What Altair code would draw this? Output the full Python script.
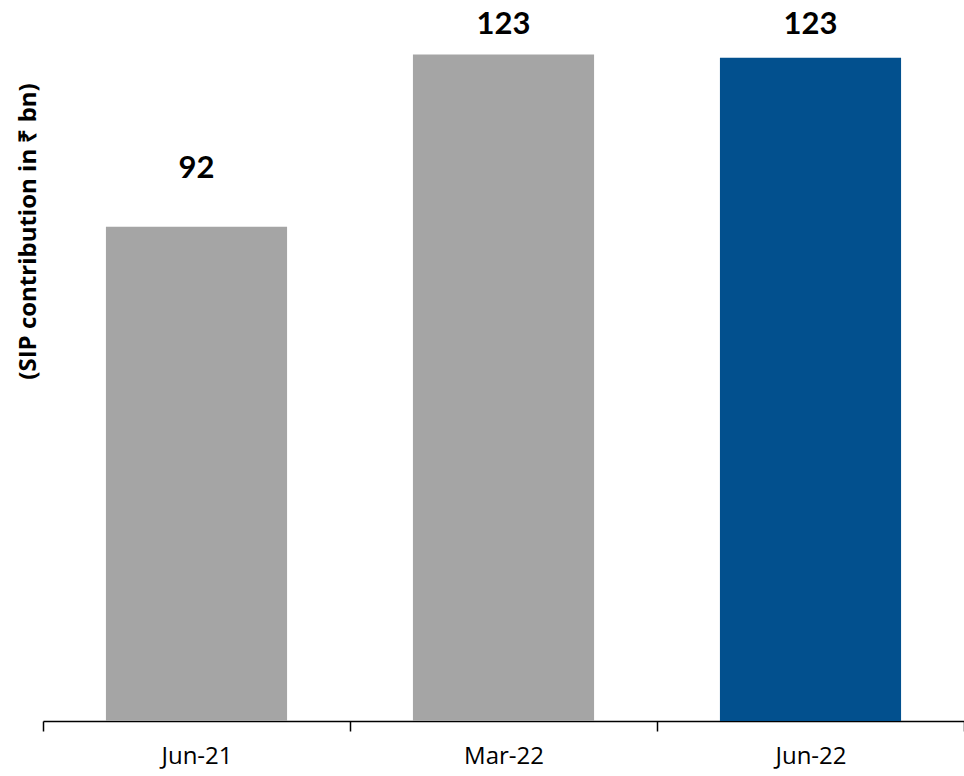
import altair as alt
import pandas as pd

categories = ["Jun-21", "Mar-22", "Jun-22"]
values = [91.5, 123.4, 122.8]
labels = ["92", "123", "123"]
label_pos = [102.3, 128.9, 128.9]
colors = ["#A5A5A5", "#A5A5A5", "#02508E"]

df = pd.DataFrame({
    "cat": categories,
    "value": values,
    "label": labels,
    "label_pos": label_pos,
    "color": colors,
})

x = alt.X("cat:N", sort=categories, title=None,
          scale=alt.Scale(paddingInner=0, paddingOuter=0),
          axis=alt.Axis(tickBand="extent", labelAngle=0, labelFont="Open Sans",
                        labelFontSize=24, labelColor="#000000", labelPadding=13,
                        tickSize=10, tickColor="#000000", domainColor="#000000",
                        domainWidth=1.5, tickWidth=1.5, grid=False))

bars = alt.Chart(df).mark_bar(width=alt.RelativeBandSize(0.59)).encode(
    x=x,
    y=alt.Y("value:Q", scale=alt.Scale(domain=[0, 133.5], nice=False, zero=True),
            axis=alt.Axis(title="(SIP contribution in ₹ bn)", labels=False, ticks=False,
                          domain=False, grid=False, titleFont="Open Sans", titleFontSize=24,
                          titleFontWeight="bold", titleColor="#000000", titleAngle=270,
                          titleX=-15, titleY=231, titleBaseline="middle", titleAlign="center")),
    color=alt.Color("color:N", scale=None, legend=None),
)

text = alt.Chart(df).mark_text(font="Lato", fontSize=31, fontWeight="bold",
                               color="#000000", baseline="middle").encode(
    x=alt.X("cat:N", sort=categories),
    y=alt.Y("label_pos:Q"),
    text="label:N",
)

chart = alt.layer(bars, text).properties(
    width=921, height=721,
    background="white",
    autosize=alt.AutoSizeParams(type="none"),
    padding={"left": 43, "top": 0, "right": 0, "bottom": 55},
).configure_view(stroke=None, strokeWidth=0)

chart.save("out.html", embed_options={"renderer": "svg", "actions": False})
